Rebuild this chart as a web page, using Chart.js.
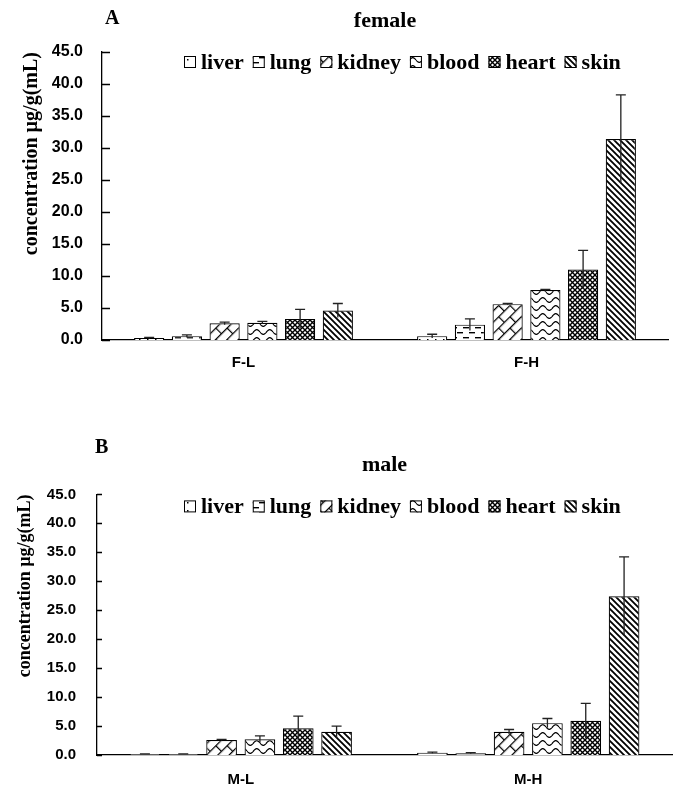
<!DOCTYPE html>
<html>
<head>
<meta charset="utf-8">
<script src="https://cdn.jsdelivr.net/npm/chart.js@4.4.1/dist/chart.umd.min.js"></script>
<style>
  html, body { margin: 0; padding: 0; background: #fff; }
  #wrap { position: relative; width: 680px; height: 791px; }
  .panel { position: absolute; left: 0; width: 680px; }
  .tag { position: absolute; font: bold 20px 'Liberation Serif', serif; color: #000; line-height: 23px; }
</style>
</head>
<body>
<div id="wrap">
  <div class="panel" style="top:0;height:395px"><canvas id="chart-female" width="680" height="395"></canvas></div>
  <div class="panel" style="top:395px;height:396px"><canvas id="chart-male" width="680" height="396"></canvas></div>
  <div class="tag" style="left:105px;top:6px">A</div>
  <div class="tag" style="left:95px;top:435px">B</div>
</div>
<script>
// organs (one dataset each) and dose groups (categories)
const organs = ['liver', 'lung', 'kidney', 'blood', 'heart', 'skin'];
const femaleGroups = ['F-L', 'F-H'];
const maleGroups = ['M-L', 'M-H'];

// mean concentration per organ: [low dose, high dose]
const femaleMeans = [
    [0.3, 0.6],
    [0.6, 2.4],
    [2.6, 5.6],
    [2.7, 7.8],
    [3.3, 11.0],
    [4.6, 31.4],
];
const femaleErrors = [
    [0.1, 0.3],
    [0.2, 0.9],
    [0.2, 0.1],
    [0.2, 0.1],
    [1.5, 3.0],
    [1.1, 6.9],
];
const maleMeans = [
    [0.15, 0.4],
    [0.15, 0.3],
    [2.6, 4.0],
    [2.7, 5.5],
    [4.6, 5.9],
    [4.0, 27.4],
];
const maleErrors = [
    [0.05, 0.1],
    [0.05, 0.1],
    [0.1, 0.4],
    [0.6, 0.8],
    [2.1, 3.0],
    [1.0, 6.8],
];
const yTicks = { min: 0, max: 45, step: 5 };

const SERIF = "'Liberation Serif', 'Times New Roman', serif";

// hatch fills, one per organ
function makePattern(kind) {
    const t = document.createElement('canvas');
    const size = { liver: [8, 8], lung: [12, 10], kidney: [16, 16], blood: [13, 8], heart: [5, 5], skin: [6, 6] }[kind];
    t.width = size[0];
    t.height = size[1];
    const c = t.getContext('2d');
    c.fillStyle = '#fff';
    c.fillRect(0, 0, t.width, t.height);
    c.fillStyle = '#000';
    c.strokeStyle = '#000';
    c.lineWidth = 1.2;
    if (kind === 'liver') {
        c.fillRect(3, 3, 1.5, 1.5);
    } else if (kind === 'lung') {
        c.fillRect(1, 2, 6, 1.4);
        c.fillRect(7, 7, 5, 1.4);
        c.fillRect(0, 7, 1, 1.4);
    } else if (kind === 'kidney') {
        // bricks, rotated afterwards
        c.beginPath();
        c.moveTo(0, 0.6); c.lineTo(16, 0.6);
        c.moveTo(0, 8.6); c.lineTo(16, 8.6);
        c.moveTo(0.6, 0); c.lineTo(0.6, 8);
        c.moveTo(8.6, 8); c.lineTo(8.6, 16);
        c.stroke();
    } else if (kind === 'blood') {
        c.beginPath();
        for (let x = 0; x <= 13; x += 0.5) {
            const y = 4 + 2.3 * Math.sin((x / 13) * Math.PI * 2);
            if (x === 0) c.moveTo(x, y); else c.lineTo(x, y);
        }
        c.stroke();
    } else if (kind === 'heart') {
        c.lineWidth = 1.4;
        c.beginPath();
        c.moveTo(-1, -1); c.lineTo(6, 6);
        c.moveTo(-1, 6); c.lineTo(6, -1);
        c.stroke();
    } else if (kind === 'skin') {
        c.lineWidth = 1.8;
        c.beginPath();
        c.moveTo(-1, -1); c.lineTo(7, 7);
        c.moveTo(5, -1); c.lineTo(7, 1);
        c.moveTo(-1, 5); c.lineTo(1, 7);
        c.stroke();
    }
    const p = c.createPattern(t, 'repeat');
    if (kind === 'kidney') p.setTransform(new DOMMatrix().rotate(-45));
    return p;
}

// error bars (cap on top only), inward tick marks and the in-plot legend
const extrasPlugin = {
    id: 'extras',
    afterDatasetsDraw(chart, args, opts) {
        const { ctx, chartArea, scales: { y } } = chart;
        ctx.save();
        ctx.strokeStyle = '#222';
        ctx.lineWidth = 1.3;
        chart.data.datasets.forEach((ds, i) => {
            const meta = chart.getDatasetMeta(i);
            meta.data.forEach((bar, j) => {
                const v = ds.data[j];
                const e = ds.errors[j];
                const hi = y.getPixelForValue(v + e);
                const lo = y.getPixelForValue(Math.max(0, v - e));
                ctx.beginPath();
                ctx.moveTo(bar.x, lo);
                ctx.lineTo(bar.x, hi);
                ctx.moveTo(bar.x - 5, hi);
                ctx.lineTo(bar.x + 5, hi);
                ctx.stroke();
            });
        });
        ctx.strokeStyle = '#000';
        ctx.beginPath();
        y.ticks.forEach(t => {
            const p = Math.round(y.getPixelForValue(t.value)) + 0.5;
            ctx.moveTo(chartArea.left, p);
            ctx.lineTo(chartArea.left + opts.tickLen, p);
        });
        ctx.stroke();

        // legend in one row inside the plot
        const box = 12;
        ctx.font = `bold ${opts.legendSize}px ${SERIF}`;
        ctx.textBaseline = 'middle';
        ctx.textAlign = 'left';
        ctx.fillStyle = '#000';
        ctx.lineWidth = 1;
        let x = opts.legendX;
        const cy = chartArea.top + opts.legendDy;
        chart.data.datasets.forEach(ds => {
            ctx.fillStyle = ds.backgroundColor;
            ctx.fillRect(x, cy - box / 2, box, box);
            ctx.strokeRect(x + 0.5, cy - box / 2 + 0.5, box - 1, box - 1);
            ctx.fillStyle = '#000';
            ctx.fillText(ds.label, x + box + 5, cy + 1);
            x += box + 5 + ctx.measureText(ds.label).width + 9;
        });
        ctx.restore();
    },
};

function buildChart(canvasId, title, groups, means, errors, o) {
    const patterns = organs.map(makePattern);
    const datasets = organs.map((name, k) => ({
        label: name,
        data: means[k],
        errors: errors[k],
        backgroundColor: patterns[k],
        borderColor: '#000',
        borderWidth: 1.2,
        categoryPercentage: 0.8,
        barPercentage: 0.8,
    }));
    const tickFont = { family: "'Liberation Sans', Arial, sans-serif", size: o.tickSize, weight: 'bold' };

    return new Chart(document.getElementById(canvasId), {
        type: 'bar',
        data: { labels: groups, datasets },
        options: {
            responsive: false,
            animation: false,
            layout: { padding: { top: 0, right: o.padRight, bottom: 0, left: 0 } },
            plugins: {
                title: {
                    display: true,
                    text: title,
                    fullSize: false,
                    color: '#000',
                    font: { family: SERIF, size: o.titleSize, weight: 'bold' },
                    padding: { top: o.titleTop, bottom: o.titleBottom },
                },
                legend: { display: false },
                tooltip: { enabled: false },
                extras: { tickLen: o.tickLen, legendX: 184, legendDy: o.legendDy, legendSize: 22 },
            },
            scales: {
                x: {
                    grid: { display: false, drawTicks: false },
                    border: { display: true, color: '#000', width: 1.3 },
                    ticks: { color: '#000', font: { ...tickFont, size: o.xTickSize }, padding: o.xPad },
                    afterFit: s => { s.height = o.xHeight; },
                },
                y: {
                    min: yTicks.min,
                    max: yTicks.max,
                    grid: { display: false, drawTicks: false },
                    border: { display: true, color: '#000', width: 1.3 },
                    ticks: {
                        stepSize: yTicks.step,
                        color: '#000',
                        font: tickFont,
                        padding: o.yPad,
                        callback: v => v.toFixed(1),
                    },
                    title: {
                        display: true,
                        text: 'concentration µg/g(mL)',
                        color: '#000',
                        align: 'end',
                        font: { family: SERIF, size: o.yTitleSize, weight: 'bold' },
                        padding: { top: o.yTitlePad, bottom: 0 },
                    },
                    afterFit: s => { s.width = o.left; },
                },
            },
        },
        plugins: [extrasPlugin],
    });
}

buildChart('chart-female', 'female', femaleGroups, femaleMeans, femaleErrors, {
    left: 102, padRight: 12, titleSize: 22, titleTop: 8, titleBottom: 17.6,
    legendDy: 10, tickSize: 16, xTickSize: 15, xPad: 14, xHeight: 55,
    yPad: 19, yTitleSize: 20, yTitlePad: 20, tickLen: 8,
});

buildChart('chart-male', 'male', maleGroups, maleMeans, maleErrors, {
    left: 97, padRight: 8, titleSize: 22, titleTop: 57, titleBottom: 16,
    legendDy: 12, tickSize: 15, xTickSize: 15, xPad: 16, xHeight: 36,
    yPad: 21, yTitleSize: 18, yTitlePad: 15, tickLen: 5,
});
</script>
</body>
</html>
